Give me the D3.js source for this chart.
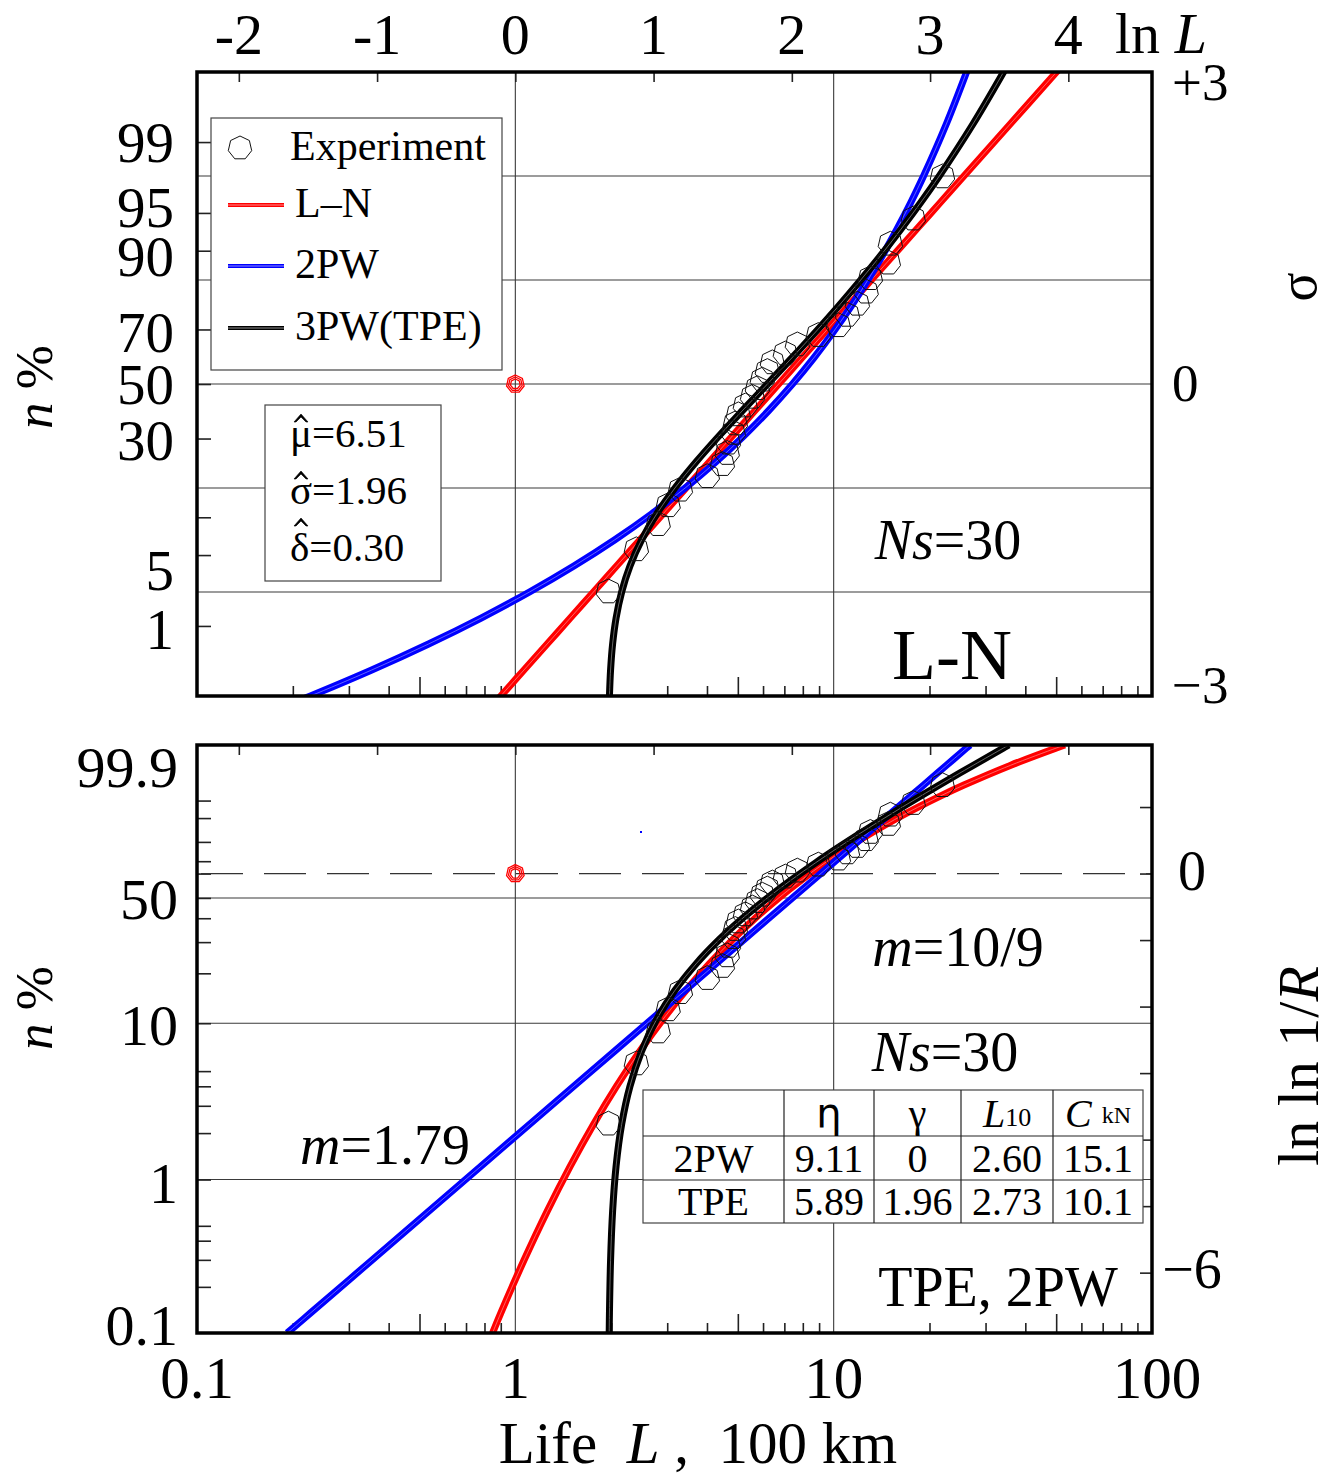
<!DOCTYPE html>
<html>
<head>
<meta charset="utf-8">
<title>Life distribution plots</title>
<script src="https://d3js.org/d3.v7.min.js"></script>
<style>
  body { margin: 0; background: #fff; }
  svg { display: block; font-family: "Liberation Serif", "Times New Roman", serif; }
  svg text { white-space: pre; }
</style>
</head>
<body>
<svg id="chart" width="1341" height="1475"></svg>
<script>
// ---- data ----
// experiment: lives (100 km) and their median ranks (%)
const lives = [1.96, 2.40, 2.81, 3.02, 3.30, 4.01, 4.47, 4.63, 4.67, 4.84,
               4.91, 5.02, 5.28, 5.56, 5.76, 5.97, 6.19, 6.42, 7.05, 7.69,
               8.95, 10.35, 11.05, 11.87, 12.65, 13.04, 14.85, 15.07, 17.79, 21.97];
const ranks = [2.30, 5.59, 8.88, 12.17, 15.46, 18.75, 22.04, 25.33, 28.62, 31.91,
               35.20, 38.49, 41.78, 45.07, 48.36, 51.64, 54.93, 58.22, 61.51, 64.80,
               68.09, 71.38, 74.67, 77.96, 81.25, 84.54, 87.83, 91.12, 94.41, 97.70];

// fitted curves: failure % and the life at that % for each model
const curveF = [0.1, 0.135, 0.298, 0.621, 1.222, 2.275, 4.006, 6.681, 10.565, 15.866,
                22.663, 30.854, 40.129, 50, 59.871, 69.146, 77.337, 84.134, 89.435, 93.319,
                95.994, 97.725, 99.379, 99.865, 99.9];
const lnCurve = [0.848, 0.900, 1.0645, 1.2586, 1.488, 1.7595, 2.080, 2.4596, 2.908, 3.438,
                 4.065, 4.807, 5.683, 6.719, 7.944, 9.393, 11.107, 13.13, 15.526, 18.36,
                 21.70, 25.66, 35.87, 50.14, 53.25];
const w2Curve = [0.1920, 0.2272, 0.3539, 0.5339, 0.7806, 1.108, 1.5272, 2.049, 2.677, 3.416,
                 4.265, 5.219, 6.274, 7.424, 8.659, 9.973, 11.360, 12.81, 14.322, 15.88,
                 17.501, 19.16, 22.59, 26.16, 26.82];
const tpeCurve = [1.9718, 1.9754, 1.9914, 2.0210, 2.0725, 2.1576, 2.2916, 2.4922, 2.779, 3.173,
                  3.694, 4.361, 5.190, 6.195, 7.387, 8.775, 10.365, 12.16, 14.17, 16.38,
                  18.82, 21.47, 27.40, 34.18, 35.50];

// reference marks
const refL = 1;
const refTopF = 50;
const refBotF = 63.2;

// axes
const xLabels = [0.1, 1, 10, 100];
const xGrid = [1, 10];
const xMinor = [0.2, 0.3, 0.4, 0.5, 0.6, 0.7, 0.8, 0.9, 2, 3, 4, 5, 6, 7, 8, 9, 20, 30, 40, 50, 60, 70, 80, 90];
const lnLTicks = [-2, -1, 0, 1, 2, 3, 4];
const topPctTicks = [1, 5, 10, 30, 50, 70, 90, 95, 99];
const topPctLabels = [1, 5, 30, 50, 70, 90, 95, 99];
const topGridSigma = [-2, -1, 0, 1, 2];
const sigmaLabels = ["+3", "0", "\u22123"];
const sigmaLabelVals = [3, 0, -3];
const botPctTicks = [0.2, 0.3, 0.4, 0.5, 1, 2, 3, 4, 5, 10, 20, 30, 40, 50, 63.2, 70, 80, 90, 95];
const botPctLabels = ["99.9", "50", "10", "1", "0.1"];
const botPctLabelVals = [99.9, 50, 10, 1, 0.1];
const botGridPct = [1, 10, 50];
const lnlnTicks = [-6, -5, -4, -3, -2, -1, 0, 1];
const lnlnLabels = ["0", "\u22126"];
const lnlnLabelVals = [0, -6];

// legend, boxes, table
const legendNames = ["Experiment", "L\u2013N", "2PW", "3PW(TPE)"];
const legendColors = [null, "#ff0000", "#0000ff", "#000000"];
const lnStats = [["\u03bc", 6.51], ["\u03c3", 1.96], ["\u03b4", 0.30]];
const tableRows = ["2PW", "TPE"];
const etaVals = [9.11, 5.89];
const gammaVals = [0, 1.96];
const l10Vals = [2.60, 2.73];
const cVals = [15.1, 10.1];

// ---- helpers ----
function probit(p) {
  const a = [-3.969683028665376e+01, 2.209460984245205e+02, -2.759285104469687e+02, 1.383577518672690e+02, -3.066479806614716e+01, 2.506628277459239e+00];
  const b = [-5.447609879822406e+01, 1.615858368580409e+02, -1.556989798598866e+02, 6.680131188771972e+01, -1.328068155288572e+01];
  const c = [-7.784894002430293e-03, -3.223964580411365e-01, -2.400758277161838e+00, -2.549732539343734e+00, 4.374664141464968e+00, 2.938163982698783e+00];
  const d = [7.784695709041462e-03, 3.224671290700398e-01, 2.445134137142996e+00, 3.754408661907416e+00];
  var q, r;
  if (p < 0.02425) {
    q = Math.sqrt(-2 * Math.log(p));
    return (((((c[0]*q+c[1])*q+c[2])*q+c[3])*q+c[4])*q+c[5]) / ((((d[0]*q+d[1])*q+d[2])*q+d[3])*q+1);
  }
  if (p > 1 - 0.02425) {
    q = Math.sqrt(-2 * Math.log(1 - p));
    return -(((((c[0]*q+c[1])*q+c[2])*q+c[3])*q+c[4])*q+c[5]) / ((((d[0]*q+d[1])*q+d[2])*q+d[3])*q+1);
  }
  q = p - 0.5; r = q * q;
  return (((((a[0]*r+a[1])*r+a[2])*r+a[3])*r+a[4])*r+a[5])*q / (((((b[0]*r+b[1])*r+b[2])*r+b[3])*r+b[4])*r+1);
}
function lnln(pct) { return Math.log(-Math.log(1 - pct / 100)); }

function heptagon(r) {
  var pts = d3.range(7).map(function(i) {
    var a = -Math.PI / 2 + i * 2 * Math.PI / 7;
    return [r * Math.cos(a), r * Math.sin(a)];
  });
  return "M" + pts.join("L") + "Z";
}

// ---- layout ----
const left = 197, right = 1152;
const top1 = 72, bot1 = 696;
const top2 = 745, bot2 = 1333;

var x = d3.scaleLog().domain([0.1, 100]).range([left, right]);
var xLn = d3.scaleLinear().domain([Math.log(0.1), Math.log(100)]).range([left, right]);
var ySig = d3.scaleLinear().domain([-3, 3]).range([bot1, top1]);
var yW = d3.scaleLinear().domain([lnln(0.1), lnln(99.9)]).range([bot2, top2]);
function yTop(pct) { return ySig(probit(pct / 100)); }
function yBot(pct) { return yW(lnln(pct)); }

var svg = d3.select("#chart");
var defs = svg.append("defs");
defs.append("clipPath").attr("id", "clipTop").append("rect")
  .attr("x", left).attr("y", top1).attr("width", right - left).attr("height", bot1 - top1);
defs.append("clipPath").attr("id", "clipBot").append("rect")
  .attr("x", left).attr("y", top2).attr("width", right - left).attr("height", bot2 - top2);

const gridColor = "#3a3a3a";
const curves = [
  {L: lnCurve, color: "#ff0000", light: "#ff9a9a"},
  {L: w2Curve, color: "#0000ff", light: "#9a9aff"},
  {L: tpeCurve, color: "#000000", light: "#a0a0a0"}
];

function drawPanel(panel) {
  var g = svg.append("g");
  var y0 = panel.top, y1 = panel.bot;

  // grid
  var grid = g.append("g").attr("stroke", gridColor).attr("stroke-width", 1.1);
  xGrid.forEach(function(v) {
    grid.append("line").attr("x1", x(v)).attr("x2", x(v)).attr("y1", y0).attr("y2", y1);
  });
  panel.hGrid.forEach(function(yy) {
    grid.append("line").attr("x1", left).attr("x2", right).attr("y1", yy).attr("y2", yy);
  });

  // minor ticks at bottom edge (inward)
  var minor = g.append("g").attr("transform", "translate(0," + y1 + ")")
    .call(d3.axisBottom(x).tickValues(xMinor).tickFormat("")
      .tickSizeInner(-10).tickSizeOuter(0));
  minor.selectAll("line").attr("y2", function(d) { return (d === 0.5 || d === 5 || d === 50) ? -19 : -10; });
  // ln L ticks at top edge (inward)
  g.append("g").attr("transform", "translate(0," + y0 + ")")
    .call(d3.axisTop(xLn).tickValues(lnLTicks).tickFormat("").tickSizeInner(-10).tickSizeOuter(0));
  // left percent ticks
  g.append("g").attr("transform", "translate(" + left + ",0)")
    .call(d3.axisLeft(panel.yLin).tickValues(panel.leftTicks).tickFormat("")
      .tickSizeInner(-14).tickSizeOuter(0));
  if (panel.rightTicks) {
    g.append("g").attr("transform", "translate(" + right + ",0)")
      .call(d3.axisRight(panel.yLin).tickValues(panel.rightTicks).tickFormat("")
        .tickSizeInner(-12).tickSizeOuter(0));
  }
  g.selectAll(".domain").remove();
  g.selectAll(".tick line").attr("stroke", "#222").attr("stroke-width", 1.6);

  if (panel.dashed !== undefined) {
    g.append("line").attr("x1", left + 4).attr("x2", right).attr("y1", panel.dashed).attr("y2", panel.dashed)
      .attr("stroke", "#333").attr("stroke-width", 1.2).attr("stroke-dasharray", "42,21");
  }

  // curves
  var cg = g.append("g").attr("clip-path", "url(#" + panel.clip + ")");
  var line = d3.line().curve(d3.curveCatmullRom)
    .x(function(d) { return x(d[0]); })
    .y(function(d) { return panel.y(d[1]); });
  curves.forEach(function(c) {
    var pts = c.L.map(function(l, i) { return [l, curveF[i]]; });
    cg.append("path").attr("d", line(pts)).attr("fill", "none")
      .attr("stroke", c.color).attr("stroke-width", 7);
    cg.append("path").attr("d", line(pts)).attr("fill", "none")
      .attr("stroke", c.light).attr("stroke-width", 0.8).attr("opacity", 0.8);
  });

  // experiment points
  cg.selectAll(".pt").data(lives).enter().append("path")
    .attr("class", "pt")
    .attr("d", heptagon(12.5))
    .attr("transform", function(d, i) { return "translate(" + x(d) + "," + panel.y(ranks[i]) + ")"; })
    .attr("fill", "none").attr("stroke", "#111").attr("stroke-width", 1);

  // red reference mark
  [9, 7, 5].forEach(function(r) {
    g.append("path").attr("d", heptagon(r))
      .attr("transform", "translate(" + x(refL) + "," + panel.y(panel.refF) + ")")
      .attr("fill", "none").attr("stroke", "#ff0000").attr("stroke-width", 1.3);
  });

  // frame
  g.append("rect").attr("x", left).attr("y", y0).attr("width", right - left).attr("height", y1 - y0)
    .attr("fill", "none").attr("stroke", "#000").attr("stroke-width", 3.5);
  return g;
}

drawPanel({
  top: top1, bot: bot1, clip: "clipTop", y: yTop, yLin: ySig,
  hGrid: topGridSigma.map(function(s) { return ySig(s); }),
  leftTicks: topPctTicks.map(function(p) { return probit(p / 100); }),
  refF: refTopF
});
var botPanel = drawPanel({
  top: top2, bot: bot2, clip: "clipBot", y: yBot, yLin: yW,
  hGrid: botGridPct.map(yBot),
  leftTicks: botPctTicks.map(lnln),
  rightTicks: lnlnTicks,
  dashed: yW(0),
  refF: refBotF
});
// stray dot in lower panel
botPanel.append("rect").attr("x", 640).attr("y", 831).attr("width", 2).attr("height", 2).attr("fill", "#0000ff");

// ---- text ----
function txt(xx, yy, size, anchor) {
  return svg.append("text").attr("x", xx).attr("y", yy)
    .attr("font-size", size).attr("text-anchor", anchor || "middle")
    .attr("dominant-baseline", "central").attr("fill", "#000");
}

// top ln L labels
lnLTicks.forEach(function(v) { txt(xLn(v), 34, 58).text(String(v)); });
var lnLab = txt(1115, 33, 58, "start");
lnLab.append("tspan").text("ln ");
lnLab.append("tspan").attr("font-style", "italic").text("L");

// bottom x labels
xLabels.forEach(function(v) { txt(x(v) + (v === 100 ? 5 : 0), 1378, 59).text(String(v)); });
var xt = txt(698, 1443, 59);
xt.append("tspan").text("Life  ");
xt.append("tspan").attr("font-style", "italic").text("L");
xt.append("tspan").text(" ,  100 km");

// left labels, top panel (nudged a little where they would collide)
var topNudge = {5: 15, 1: 4, 90: 6, 95: -5, 70: 3, 30: 2};
topPctLabels.forEach(function(p) {
  txt(174, yTop(p) + (topNudge[p] || 0), 57, "end").text(String(p));
});
// left labels, bottom panel
var botNudge = {"99.9": 22, "0.1": -8, "1": 4, "10": 2, "50": 2};
botPctLabelVals.forEach(function(p, i) {
  txt(178, yBot(p) + (botNudge[botPctLabels[i]] || 0), 58, "end").text(botPctLabels[i]);
});

// n % titles
[387, 1008].forEach(function(cy) {
  var t = svg.append("text").attr("transform", "translate(52," + cy + ") rotate(-90)")
    .attr("font-size", 53).attr("text-anchor", "middle");
  t.append("tspan").attr("font-style", "italic").text("n");
  t.append("tspan").text(" %");
});

// right labels
var sigNudge = [10, -1, -11];
sigmaLabelVals.forEach(function(v, i) {
  txt(1172, ySig(v) + sigNudge[i], 53, "start").text(sigmaLabels[i]);
});
var lnlnNudge = [-3, -4];
lnlnLabelVals.forEach(function(v, i) {
  txt(1192, yW(v) + lnlnNudge[i], 56).text(lnlnLabels[i]);
});
svg.append("text").attr("transform", "translate(1316,287) rotate(-90)")
  .attr("font-size", 54).attr("text-anchor", "middle").text("\u03c3");
var rt = svg.append("text").attr("transform", "translate(1318,1066) rotate(-90)")
  .attr("font-size", 58).attr("text-anchor", "middle");
rt.append("tspan").text("ln ln 1/");
rt.append("tspan").attr("font-style", "italic").text("R");

// legend
var lg = svg.append("g");
lg.append("rect").attr("x", 211).attr("y", 118).attr("width", 291).attr("height", 252)
  .attr("fill", "#fff").attr("stroke", "#444").attr("stroke-width", 1.2);
var legY = [148, 205, 266, 328];
legendNames.forEach(function(name, i) {
  if (legendColors[i] === null) {
    lg.append("path").attr("d", heptagon(12)).attr("transform", "translate(240," + legY[i] + ")")
      .attr("fill", "none").attr("stroke", "#111").attr("stroke-width", 1);
  } else {
    lg.append("line").attr("x1", 228).attr("x2", 284).attr("y1", legY[i]).attr("y2", legY[i])
      .attr("stroke", legendColors[i]).attr("stroke-width", 4);
    lg.append("line").attr("x1", 228).attr("x2", 284).attr("y1", legY[i]).attr("y2", legY[i])
      .attr("stroke", "#fff").attr("stroke-width", 0.8).attr("opacity", 0.7);
  }
  txt(i === 0 ? 290 : 295, legY[i] - 2, 42, "start").text(name);
});

// L-N estimate box, hats drawn as small wedges over the letters
svg.append("rect").attr("x", 265).attr("y", 405).attr("width", 176).attr("height", 176)
  .attr("fill", "#fff").attr("stroke", "#444").attr("stroke-width", 1.2);
lnStats.forEach(function(s, i) {
  var cy = 433 + i * 57;
  var t = txt(290, cy, 41, "start");
  t.append("tspan").text(s[0]);
  t.append("tspan").text("=" + s[1].toFixed(2));
  var hatY = cy - (i === 2 ? 26 : 16);
  var hx = 301;
  svg.append("path")
    .attr("d", "M" + (hx - 7) + "," + (hatY + 5) + "L" + hx + "," + (hatY - 3) + "L" + (hx + 7) + "," + (hatY + 5)
      + "L" + (hx + 5) + "," + (hatY + 5) + "L" + hx + "," + (hatY) + "L" + (hx - 5) + "," + (hatY + 5) + "Z")
    .attr("fill", "#000").attr("stroke", "#000").attr("stroke-width", 0.6);
});

// annotations
function ns(xx, yy) {
  var t = txt(xx, yy, 56);
  t.append("tspan").attr("font-style", "italic").text("Ns");
  t.append("tspan").text("=30");
}
ns(948, 540);
txt(952, 655, 72).text("L-N");
var m1 = txt(958, 947, 56);
m1.append("tspan").attr("font-style", "italic").text("m");
m1.append("tspan").text("=10/9");
ns(945, 1052);
var m2 = txt(385, 1145, 56);
m2.append("tspan").attr("font-style", "italic").text("m");
m2.append("tspan").text("=1.79");
txt(998, 1287, 56).text("TPE, 2PW");

// parameter table
var colX = [643, 784, 874, 961, 1053, 1143];
var rowY = [1090, 1136, 1180, 1223];
var tb = svg.append("g");
tb.append("rect").attr("x", colX[0]).attr("y", rowY[0]).attr("width", colX[5] - colX[0])
  .attr("height", rowY[3] - rowY[0]).attr("fill", "#fff").attr("stroke", "#444").attr("stroke-width", 1.2);
colX.slice(1, 5).forEach(function(cx) {
  tb.append("line").attr("x1", cx).attr("x2", cx).attr("y1", rowY[0]).attr("y2", rowY[3])
    .attr("stroke", "#222").attr("stroke-width", 1.2);
});
rowY.slice(1, 3).forEach(function(ry) {
  tb.append("line").attr("x1", colX[0]).attr("x2", colX[5]).attr("y1", ry).attr("y2", ry)
    .attr("stroke", "#222").attr("stroke-width", 1.2);
});
function mid(i) { return (colX[i] + colX[i + 1]) / 2; }
var hy = (rowY[0] + rowY[1]) / 2;
txt(mid(1), hy, 40).attr("font-family", "DejaVu Sans").text("\u03b7");
txt(mid(2), hy, 40).text("\u03b3");
var h3 = txt(mid(3), hy, 40);
h3.append("tspan").attr("font-style", "italic").text("L");
h3.append("tspan").attr("font-size", 26).attr("dy", 4).text("10");
var h4 = txt(mid(4), hy, 40);
h4.append("tspan").attr("font-style", "italic").text("C");
h4.append("tspan").attr("font-size", 24).attr("dx", 10).attr("dy", 2).text("kN");
tableRows.forEach(function(name, r) {
  var cy = (rowY[r + 1] + rowY[r + 2]) / 2;
  txt(mid(0), cy, 40).text(name);
  txt(mid(1), cy, 40).text(etaVals[r].toFixed(2));
  txt(mid(2), cy, 40).text(gammaVals[r] === 0 ? "0" : gammaVals[r].toFixed(2));
  txt(mid(3), cy, 40).text(l10Vals[r].toFixed(2));
  txt(mid(4), cy, 40).text(cVals[r].toFixed(1));
});
</script>
</body>
</html>
